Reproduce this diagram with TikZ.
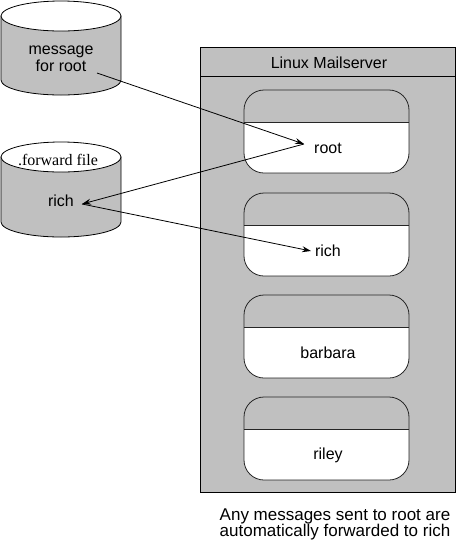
\documentclass[tikz,border=0pt]{standalone}
\usepackage{fontspec}
\setmainfont{Liberation Sans}
\newfontfamily\serifface{Liberation Serif}
\usetikzlibrary{arrows.meta}
\definecolor{cylgrey}{HTML}{C0C0C0}
\tikzset{
  lbl/.style={inner sep=0pt,font=\fontsize{16}{17}\selectfont},
  conn/.style={draw=black,line width=0.8pt,-{Stealth[length=9pt,width=6pt,inset=3pt]}},
  outl/.style={draw=black,line width=0.8pt},
  boxoutl/.style={draw=black!85,line width=0.8pt},
}
\newcommand{\mailbox}[3]{%
  \begin{scope}
    \clip[rounded corners=20pt] (244,#1) rectangle (409,#1+83);
    \fill[white] (244,#1+32) rectangle (409,#1+83);
  \end{scope}
  \draw[boxoutl] (244,#1+32) -- (409,#1+32);
  \draw[boxoutl,rounded corners=20pt] (244,#1) rectangle (409,#1+83);
  \node[lbl] (#2) at (328,#1+58) {#3};
}
\begin{document}
\begin{tikzpicture}[x=1pt,y=-1pt]
\useasboundingbox (0,0) rectangle (458,542);
% cylinder 1
\path[outl,fill=cylgrey] (1,16) -- (1,80) arc[start angle=180,end angle=0,x radius=60,y radius=15] -- (121,16) -- cycle;
\draw[outl,fill=white] (61,16) ellipse[x radius=60,y radius=15];
\node[lbl,align=center] (msg) at (61,59) {message\\for root};
% cylinder 2
\path[outl,fill=cylgrey] (1,157) -- (1,222) arc[start angle=180,end angle=0,x radius=60,y radius=15] -- (121,157) -- cycle;
\draw[outl,fill=white] (61,157) ellipse[x radius=60,y radius=15];
\node[inner sep=0pt,font=\serifface\fontsize{16}{17}\selectfont] (fwd) at (58,160) {.forward file};
\node[lbl] (richfile) at (61,201) {rich};
% server
\draw[outl,fill=cylgrey] (200,47) rectangle (455,492);
\draw[outl] (200,76) -- (455,76);
\node[lbl] (title) at (329,63) {Linux Mailserver};
\mailbox{90}{root}{root}
\mailbox{193}{rich}{rich}
\mailbox{295}{barbara}{barbara}
\mailbox{397}{riley}{riley}
% caption
\node[inner sep=0pt,align=center,font=\fontsize{17}{16}\selectfont] (cap) at (335,524) {Any messages sent to root are\\automatically forwarded to rich};
% connectors
\coordinate (msgout) at (97,73);
\coordinate (rootin) at (304,144);
\coordinate (richin) at (82,204);
\coordinate (richbox) at (311,251);
\draw[conn] (msgout) -- (rootin);
\draw[conn] (rootin) -- (richin);
\draw[conn] (richin) -- (richbox);
\end{tikzpicture}
\end{document}
